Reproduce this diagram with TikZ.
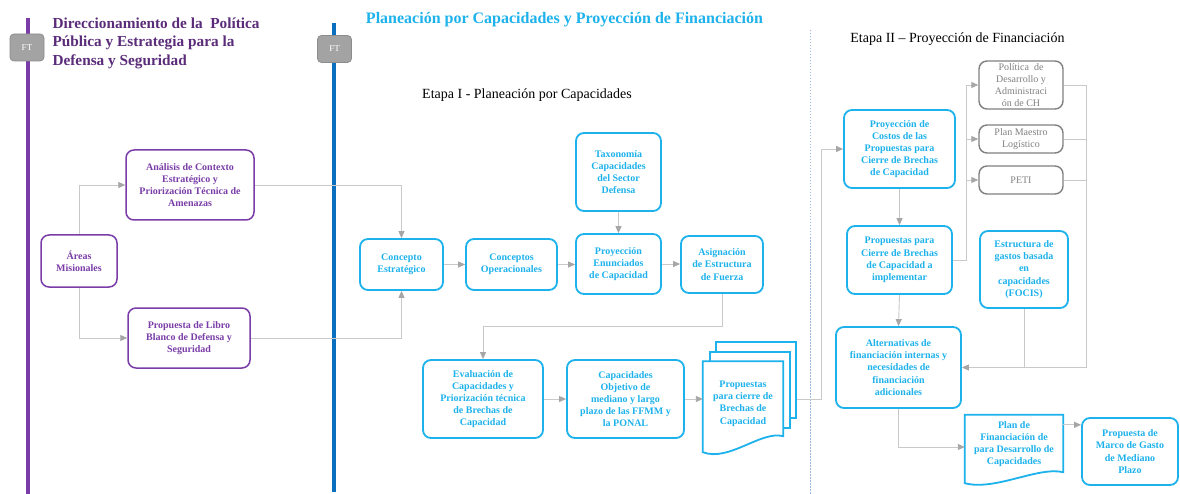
\documentclass[tikz,border=0pt]{standalone}
\usepackage{fontspec}
\setmainfont{Liberation Serif}
\usetikzlibrary{arrows.meta,calc}
\definecolor{purp}{HTML}{7A3DA8}
\definecolor{purptitle}{HTML}{5B2C7A}
\definecolor{lblue}{HTML}{1DB2EC}
\definecolor{dblue}{HTML}{0A6FBF}
\definecolor{lgray}{HTML}{C9C9C9}
\definecolor{agray}{HTML}{A6A6A6}
\definecolor{bgray}{HTML}{808080}
\definecolor{ftgray}{HTML}{A3A3A3}
\definecolor{dashblue}{HTML}{9DB9E6}
\pgfdeclarelayer{bg}
\pgfsetlayers{bg,main}
\begin{document}
\begin{tikzpicture}[x=1pt,y=-1pt,
 box/.style={rounded corners=8pt, align=center, inner sep=1pt, font=\fontsize{10}{12.2}\selectfont\bfseries},
 pbox/.style={box, draw=purp, line width=1.5pt, text=purp},
 bbox/.style={box, draw=lblue, line width=1.8pt, text=lblue, fill=white},
 gbox/.style={box, draw=bgray, line width=1.4pt, text=bgray, font=\fontsize{10}{12.2}\selectfont},
 docback/.style={draw=lblue, line width=1.8pt, fill=white, minimum width=80pt, minimum height=76pt, inner sep=0pt},
 docline/.style={draw=lblue, line width=1.8pt, fill=white},
 conn/.style={draw=lgray, line width=0.9pt, -{Triangle[length=7pt,width=6pt,color=agray]}},
 plain/.style={draw=lgray, line width=0.9pt},
 ftbox/.style={draw=gray!90, fill=ftgray, rounded corners=4pt, text=white, font=\fontsize{9}{10}\selectfont, minimum width=34pt, minimum height=27pt, line width=0.8pt},
]
\begin{pgfonlayer}{bg}
\fill[white] (0,0) rectangle (1180,494);
\end{pgfonlayer}
\useasboundingbox (0,0) rectangle (1180,494);

% lane lines
\draw[purp, line width=4pt] (28,18) -- (28,494);
\draw[dblue, line width=4pt] (334,23) -- (334,492);
\draw[dashblue, line width=0.8pt, dash pattern=on 1.5pt off 1.5pt] (810,30) -- (810,494);

\node[ftbox] (ft1) at (27,47.5) {FT};
\node[ftbox] (ft2) at (334.5,49) {FT};

% titles
\node[anchor=west, align=left, text=purptitle, font=\fontsize{15.3}{18.5}\selectfont\bfseries] (t1) at (49,43) {Direccionamiento de la~ Política\\Pública y Estrategia para la\\Defensa y Seguridad};
\node[text=lblue, font=\fontsize{16}{18}\selectfont\bfseries] (t2) at (564.5,20) {Planeación por Capacidades y Proyección de Financiación};
\node[font=\fontsize{14}{16}\selectfont] (t3) at (527,95) {Etapa I - Planeación por Capacidades};
\node[font=\fontsize{14}{16}\selectfont] (t4) at (957.5,39) {Etapa II – Proyección de Financiación};

% purple nodes
\node[pbox, minimum width=128pt, minimum height=70pt] (ana) at (190,185) {Análisis de Contexto\\Estratégico y\\Priorización Técnica de\\Amenazas};
\node[pbox, minimum width=76pt, minimum height=52pt] (areas) at (79,261) {Áreas\\Misionales};
\node[pbox, minimum width=122pt, minimum height=60pt] (libro) at (189,338) {Propuesta de Libro\\Blanco de Defensa y\\Seguridad};

% blue nodes stage I
\node[bbox, minimum width=83pt, minimum height=51pt] (ce) at (401.5,264.5) {Concepto\\Estratégico};
\node[bbox, minimum width=91pt, minimum height=51pt] (co) at (511.5,264.5) {Conceptos\\Operacionales};
\node[bbox, minimum width=85pt, minimum height=78pt] (tax) at (618.5,172) {Taxonomía\\Capacidades\\del Sector\\Defensa};
\node[bbox, minimum width=85pt, minimum height=60pt] (pec) at (618.5,264) {Proyección\\Enunciados\\de Capacidad};
\node[bbox, minimum width=82pt, minimum height=57pt] (asig) at (722,264.5) {Asignación\\de Estructura\\de Fuerza};
\node[bbox, minimum width=120pt, minimum height=78pt] (eval) at (483,399) {Evaluación de\\Capacidades y\\Priorización técnica\\de Brechas de\\Capacidad};
\node[bbox, minimum width=117pt, minimum height=78pt] (cap) at (625.5,399) {Capacidades\\Objetivo de\\mediano y largo\\plazo de las FFMM y\\la PONAL};

% multi-document
\node[box, text=lblue, minimum width=80pt, minimum height=84pt] (pd1) at (743,403.5) {Propuestas\\para cierre de\\Brechas de\\Capacidad};
\begin{pgfonlayer}{bg}
\node[docback] (pd3) at (756,380) {};
\node[docback] (pd2) at (750,390) {};
\draw[docline] (pd1.north west) -- (pd1.north east) -- ($(pd1.south east)+(0,-9.5)$) .. controls +(-22,-6) and +(26,10) .. ($(pd1.south west)+(0,6.5)$) -- cycle;
\end{pgfonlayer}

% stage II nodes
\node[bbox, minimum width=111pt, minimum height=78pt] (pcost) at (899.5,149) {Proyección de\\Costos de las\\Propuestas para\\Cierre de Brechas\\de Capacidad};
\node[gbox, minimum width=84pt, minimum height=48pt] (pol) at (1021,85) {Política~ de\\Desarrollo y\\Administraci\\ón de CH};
\node[gbox, minimum width=84pt, minimum height=28pt] (pml) at (1021,139) {Plan Maestro\\Logístico};
\node[gbox, minimum width=84pt, minimum height=28pt] (peti) at (1021,180) {PETI};
\node[bbox, minimum width=105pt, minimum height=68pt] (pci) at (899.5,260) {Propuestas para\\Cierre de Brechas\\de Capacidad a\\implementar};
\node[bbox, minimum width=88pt, minimum height=77pt] (est) at (1024,269.5) {Estructura de\\gastos basada\\en\\capacidades\\(FOCIS)};
\node[bbox, minimum width=125pt, minimum height=81pt] (alt) at (898.5,367.5) {Alternativas de\\financiación internas y\\necesidades de\\financiación\\adicionales};
\node[box, text=lblue, minimum width=98pt, minimum height=58pt] (plan) at (1014,444) {Plan de\\Financiación de\\para Desarrollo de\\Capacidades};
\begin{pgfonlayer}{bg}
\draw[docline] (plan.north west) -- (plan.north east) -- ($(plan.south east)+(0,-1)$) .. controls +(-25,-6) and +(30,8) .. ($(plan.south west)+(0,10)$) -- cycle;
\end{pgfonlayer}
\node[bbox, minimum width=96pt, minimum height=67pt] (marco) at (1130,451.5) {Propuesta de\\Marco de Gasto\\de Mediano\\Plazo};

% connectors left
\draw[conn] (areas.north) |- (ana.west);
\draw[conn] (areas.south) |- (libro.west);
\draw[conn] (ana.east) -| (ce.north);
\draw[conn] (libro.east) -| (ce.south);

% connectors stage I
\draw[conn] (ce.east) -- (co.west);
\draw[conn] (co.east) -- (co.east -| pec.west);
\draw[conn] (pec.east) -- (pec.east -| asig.west);
\draw[conn] (tax.south) -- (pec.north);
\coordinate (k1) at (722,326);
\draw[conn] (asig.south) -- (k1) -| (eval.north);
\draw[conn] (eval.east) -- (cap.west);
\draw[conn] (cap.east) -- (cap.east -| pd1.west);
\coordinate (k2) at (821,399);
\draw[conn] (pd3.east |- cap.east) -- (k2) |- (pcost.west);

% connectors stage II
\coordinate (lbus) at (966,0);
\coordinate (rbus) at (1086,0);
\draw[conn] (pcost.south) -- (pci.north);
\draw[conn] (pci.east) -| (lbus |- pol.west) -- (pol.west);
\draw[conn] (lbus |- pml.west) -- (pml.west);
\draw[conn] (lbus |- peti.west) -- (peti.west);
\draw[conn] (pol.east) -| (rbus |- alt.east) -- (alt.east);
\draw[plain] (pml.east) -- (rbus |- pml.east);
\draw[plain] (peti.east) -- (rbus |- peti.east);
\draw[plain] (est.south) -- (est.south |- alt.east);
\draw[conn] (pci.south) -- (alt.north);
\coordinate (k3) at (898.5,447);
\draw[conn] (alt.south) -- (k3) -- (k3 -| plan.west);
\coordinate (pm) at ($(plan.north east)+(0,10)$);
\draw[conn] (pm) -- (pm -| marco.west);
\end{tikzpicture}
\end{document}
